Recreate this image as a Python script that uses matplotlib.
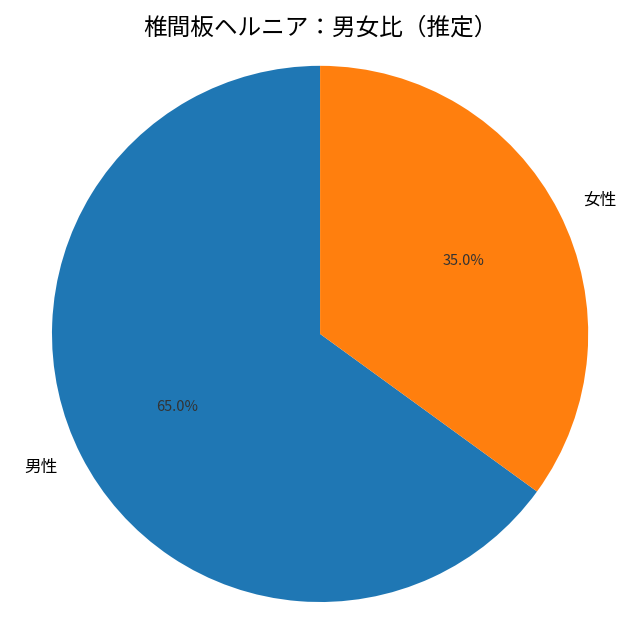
import matplotlib
matplotlib.use("Agg")
import matplotlib.pyplot as plt

plt.rcParams['font.family'] = ['Noto Sans CJK JP', 'DejaVu Sans']

labels = ["男性", "女性"]
values = [65, 35]
colors = ["#1f77b4", "#ff7f0e"]

fig = plt.figure(figsize=(6.4, 6.4), dpi=100)
ax = fig.add_axes([0.0603, 0.0384, 0.8797, 0.8797])
wedges, texts, autotexts = ax.pie(values, labels=labels, colors=colors,
                                  autopct="%1.1f%%", startangle=90,
                                  textprops={"fontsize": 12})
for t in autotexts:
    t.set_fontsize(10.5)
    t.set_color("#333333")
ax.set_xlim(-1.05, 1.05)
ax.set_ylim(-1.05, 1.05)
ax.set_aspect("equal", adjustable="box")
fig.suptitle("椎間板ヘルニア：男女比（推定）", fontsize=17, y=0.956, va="center")
plt.savefig("out.png")
